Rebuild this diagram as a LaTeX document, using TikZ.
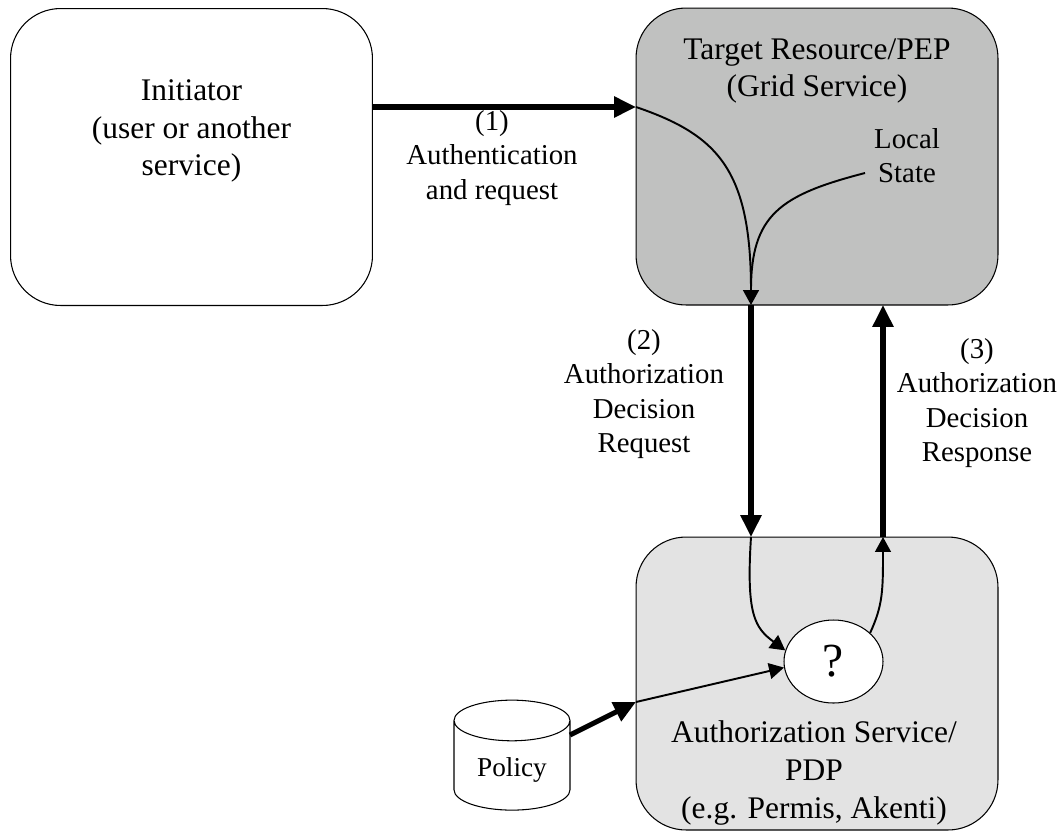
\documentclass[tikz,border=0pt]{standalone}
\usepackage{fontspec}
\setmainfont{Liberation Serif}
\usetikzlibrary{arrows.meta,shapes.geometric,positioning,calc}

\definecolor{pepgray}{RGB}{192,193,192}
\definecolor{pdpgray}{RGB}{227,227,227}

\tikzset{
  box/.style={draw, line width=0.6pt, rounded corners=1cm, minimum width=7.24cm, minimum height=5.94cm},
  bigtext/.style={align=center, font=\fontsize{17.9pt}{21.5pt}\selectfont},
  smalltext/.style={align=center, font=\fontsize{16.4pt}{19.5pt}\selectfont},
  bigarrow/.style={line width=2.9pt, -{Triangle[length=12.5pt,width=11.5pt]}},
  thinarrow/.style={line width=1.1pt, -{Triangle[length=8.5pt,width=9pt]}},
  thinline/.style={line width=1.1pt},
}

\begin{document}
\begin{tikzpicture}[x=0.02cm,y=-0.02cm]
  \useasboundingbox (0,0) rectangle (1062,833);
  % initiator box
  \node [box] (initiator) at (191.5,157) {};
  \node [bigtext] (initext) at (191.5,131) {Initiator\\(user or another\\service)};
  % target resource box
  \node [box, fill=pepgray] (target) at (817,156.5) {};
  \node [bigtext] (targettext) at (817,71) {Target Resource/PEP\\(Grid Service)};
  \node [smalltext] (local) at (907,156) {Local\\State};
  % pdp box
  \node [box, fill=pdpgray, minimum height=5.86cm] (pdp) at (817,683.5) {};
  \node [bigtext] (pdptext) at (814,773) {Authorization Service/\\PDP\\(e.g. Permis, Akenti)};
  \node [ellipse, draw, fill=white, line width=0.6pt, minimum width=1.98cm, minimum height=1.66cm, inner sep=0pt,
         font=\fontsize{27pt}{27pt}\selectfont] (decide) at (833.5,661.5) {?};
  % policy store
  \node [cylinder, draw, fill=white, line width=0.6pt, shape border rotate=90, aspect=0.5,
         minimum width=2.32cm, minimum height=2.2cm, font=\fontsize{15.5pt}{18pt}\selectfont] (policy) at (512,770) {Policy};

  % (1) request
  \coordinate (req) at (636,107);
  \draw [bigarrow] (initiator.east |- req) -- (req);
  \node [smalltext] (req1) at (492,158) {(1)\\Authentication\\and request};
  \coordinate (pepout) at (751,305);
  \coordinate (ls) at (865,173);
  \draw [thinarrow] (req) .. controls (718,135) and (751,170) .. (pepout);
  \draw [thinline] (ls) .. controls (780,195) and (751,215) .. ($(pepout)+(0,-15)$);

  % (2) decision request
  \coordinate (pdpin) at (751,537);
  \draw [bigarrow] (pepout) -- (pdpin);
  \node [smalltext] (req2) at (644,394) {(2)\\Authorization\\Decision\\Request};
  \draw [thinarrow] (pdpin) .. controls (746,615) and (755,628) .. (decide.167);

  % (3) decision response
  \coordinate (pdpout) at (883,537);
  \coordinate (pepin) at (883,305);
  \draw [thinarrow] (decide.38) .. controls (883,605) and (883,590) .. (pdpout);
  \draw [bigarrow] (pdpout) -- (pepin);
  \node [smalltext] (resp3) at (977,403) {(3)\\Authorization\\Decision\\Response};

  % policy input
  \coordinate (polout) at (570,735);
  \coordinate (polin) at (636,702);
  \draw [bigarrow] (polout) -- (polin);
  \draw [thinarrow] (polin) -- (decide.187);
\end{tikzpicture}
\end{document}
